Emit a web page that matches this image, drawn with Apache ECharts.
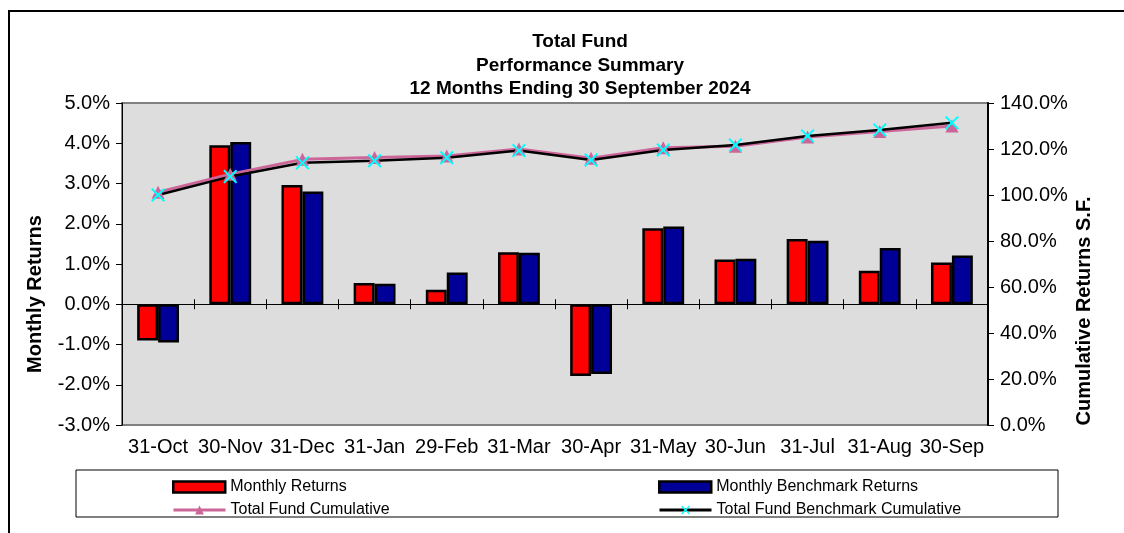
<!DOCTYPE html>
<html>
<head>
<meta charset="utf-8">
<script src="https://cdn.jsdelivr.net/npm/echarts@6/dist/echarts.min.js"></script>
<style>
  html, body { margin: 0; padding: 0; background: #fff; }
  #chart { width: 1124px; height: 533px; }
</style>
</head>
<body>
<div id="chart"></div>
<script>
// month-end labels
const categories = ['31-Oct', '30-Nov', '31-Dec', '31-Jan', '29-Feb', '31-Mar', '30-Apr', '31-May', '30-Jun', '31-Jul', '31-Aug', '30-Sep']
// monthly returns, %
const monthlyReturns = [-0.90, 3.95, 2.96, 0.53, 0.36, 1.29, -1.78, 1.89, 1.11, 1.62, 0.83, 1.04]
const benchmarkReturns = [-0.95, 4.03, 2.80, 0.51, 0.79, 1.28, -1.73, 1.93, 1.13, 1.58, 1.40, 1.21]
// cumulative (right axis), %
const fundCumulative = [101.2, 109.0, 115.5, 116.3, 117.0, 120.0, 116.0, 120.5, 121.2, 125.2, 127.6, 130.0]
const benchCumulative = [100.0, 108.0, 114.0, 114.9, 116.2, 119.3, 115.2, 119.6, 121.7, 125.7, 128.3, 131.4]
const titleLines = ['Total Fund', 'Performance Summary', '12 Months Ending 30 September 2024']

const FONT = "'Liberation Sans', Arial, sans-serif"
const crossPath = 'path://M0,1L1,0L5,4L9,0L10,1L6,5L10,9L9,10L5,6L1,10L0,9L4,5Z'

const catAxis = (extra) => Object.assign({
  type: 'category',
  data: categories,
  position: 'bottom',
  boundaryGap: true
}, extra)

const legendBase = {
  itemWidth: 52, itemHeight: 11, selectedMode: false,
  textStyle: { fontSize: 16, color: '#000', fontFamily: FONT }
}

const option = {
  animation: false,
  textStyle: { fontFamily: FONT },
  grid: {
    left: 122, right: 136, top: 103, bottom: 108,
    show: true, backgroundColor: '#DDDDDD', borderColor: '#808080', borderWidth: 2
  },
  xAxis: [
    // labels along the bottom
    catAxis({
      axisLine: { show: false },
      axisTick: { show: false },
      axisLabel: { interval: 0, fontSize: 20, color: '#000', margin: 12, fontFamily: FONT }
    }),
    // zero line with ticks below
    catAxis({
      axisLine: { onZero: true, onZeroAxisIndex: 0, lineStyle: { color: '#000', width: 1 } },
      axisTick: { show: true, length: 5, lineStyle: { color: '#000' } },
      axisLabel: { show: false }
    }),
    // ticks above zero line
    catAxis({
      axisLine: { onZero: true, onZeroAxisIndex: 0, lineStyle: { color: '#000', width: 1 } },
      axisTick: { show: true, inside: true, length: 5, lineStyle: { color: '#000' } },
      axisLabel: { show: false }
    })
  ],
  yAxis: [
    {
      type: 'value', position: 'left', min: -3, max: 5, interval: 1,
      axisLine: { show: true, lineStyle: { color: '#000', width: 1 } },
      axisTick: { show: true, length: 6, lineStyle: { color: '#000' } },
      axisLabel: { fontSize: 20, color: '#000', margin: 12, fontFamily: FONT,
        formatter: v => v.toFixed(1) + '%' },
      splitLine: { show: false }
    },
    {
      type: 'value', position: 'right', min: 0, max: 140, interval: 20,
      axisLine: { show: true, lineStyle: { color: '#000', width: 2 } },
      axisTick: { show: true, length: 6, lineStyle: { color: '#000' } },
      axisLabel: { fontSize: 20, color: '#000', margin: 12, fontFamily: FONT,
        formatter: v => v.toFixed(1) + '%' },
      splitLine: { show: false }
    }
  ],
  legend: [
    Object.assign({}, legendBase, { data: [{ name: 'Monthly Returns', icon: 'rect' }], left: 167, top: 474,
      itemStyle: { borderColor: '#000', borderWidth: 2.5 } }),
    Object.assign({}, legendBase, { data: [{ name: 'Monthly Benchmark Returns', icon: 'rect' }], left: 653, top: 474,
      itemStyle: { borderColor: '#000', borderWidth: 2.5 } }),
    Object.assign({}, legendBase, { data: ['Total Fund Cumulative'], left: 167, top: 497,
      lineStyle: { width: 3 } }),
    Object.assign({}, legendBase, { data: ['Total Fund Benchmark Cumulative'], left: 653, top: 497,
      lineStyle: { width: 3 } })
  ],
  series: [
    {
      name: 'Monthly Returns', type: 'bar', data: monthlyReturns,
      xAxisIndex: 0, yAxisIndex: 0, barGap: '0%', barCategoryGap: '42%',
      itemStyle: { color: '#FF0000', borderColor: '#000', borderWidth: 2.5 }
    },
    {
      name: 'Monthly Benchmark Returns', type: 'bar', data: benchmarkReturns,
      xAxisIndex: 0, yAxisIndex: 0, barGap: '0%', barCategoryGap: '42%',
      itemStyle: { color: '#000099', borderColor: '#000', borderWidth: 2.5 }
    },
    {
      name: 'Total Fund Cumulative', type: 'line', data: fundCumulative,
      xAxisIndex: 0, yAxisIndex: 1, symbol: 'triangle', symbolSize: 13,
      lineStyle: { color: '#CC6699', width: 3 },
      itemStyle: { color: '#CC6699' }
    },
    {
      name: 'Total Fund Benchmark Cumulative', type: 'line', data: benchCumulative,
      xAxisIndex: 0, yAxisIndex: 1, symbol: crossPath, symbolSize: 14,
      lineStyle: { color: '#000', width: 2.5 },
      itemStyle: { color: '#00FFFF' }
    }
  ],
  graphic: [
    // outer frame (cropped on right / bottom)
    { type: 'polyline', z: -10, shape: { points: [[9, 533], [9, 11], [1124, 11]] },
      style: { stroke: '#000', lineWidth: 2, fill: null } },
    // legend box
    { type: 'rect', z: -10, shape: { x: 76, y: 470, width: 982, height: 47 },
      style: { fill: '#fff', stroke: '#000', lineWidth: 1 } },
    ...titleLines.map((t, i) => ({
      type: 'text', x: 580, y: 42 + i * 23.5,
      style: { text: t, font: "bold 19px " + FONT, fill: '#000', align: 'center', verticalAlign: 'middle' }
    })),
    { type: 'text', x: 35, y: 294, rotation: Math.PI / 2,
      style: { text: 'Monthly Returns', font: "bold 20px " + FONT, fill: '#000', align: 'center', verticalAlign: 'middle' } },
    { type: 'text', x: 1084, y: 311, rotation: Math.PI / 2,
      style: { text: 'Cumulative Returns S.F.', font: "bold 20px " + FONT, fill: '#000', align: 'center', verticalAlign: 'middle' } }
  ]
}

const myChart = echarts.init(document.getElementById('chart'))
myChart.setOption(option)
</script>
</body>
</html>
